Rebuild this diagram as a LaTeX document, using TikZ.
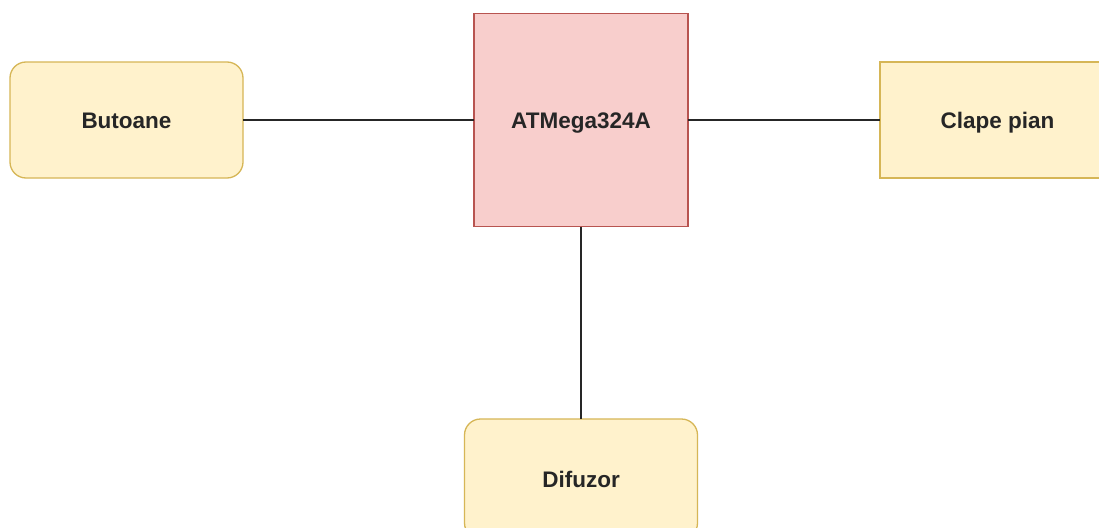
\documentclass[tikz,border=0pt]{standalone}
\usepackage{fontspec}
\setmainfont{Liberation Sans}
\definecolor{yfill}{HTML}{FFF2CC}
\definecolor{ydraw}{HTML}{D6B656}
\definecolor{rfill}{HTML}{F8CECC}
\definecolor{rdraw}{HTML}{B85450}
\tikzset{
  box/.style={draw=ydraw, fill=yfill, line width=1.3pt, inner sep=0pt, outer sep=0pt,
    text height=16.1pt, text depth=0pt,
    font=\fontsize{22.5}{26}\selectfont\bfseries, text=black!85},
  rbox/.style={box, rounded corners=16pt},
  mcu/.style={box, draw=rdraw, fill=rfill},
  wire/.style={line width=1.7pt, draw=black!85}
}
\begin{document}
\begin{tikzpicture}[x=1pt,y=-1pt]
\useasboundingbox (0,0) rectangle (1099,527);
\clip (0,0) rectangle (1099,527);
\fill[white] (0,0) rectangle (1099,527);
\node[rbox, minimum width=233pt, minimum height=116pt] (but) at (126.5,120) {Butoane};
\node[mcu, minimum width=214pt, minimum height=213pt] (mcu) at (581,120) {ATMega324A};
\node[box, minimum width=235pt, minimum height=116pt] (clape) at (997.5,120) {Clape pian};
\node[rbox, minimum width=233pt, minimum height=120pt] (dif) at (581,479) {Difuzor};
\draw[wire] (but.east) -- (mcu.west);
\draw[wire] (mcu.east) -- (clape.west);
\draw[wire] (mcu.south) -- (dif.north);
\end{tikzpicture}
\end{document}
